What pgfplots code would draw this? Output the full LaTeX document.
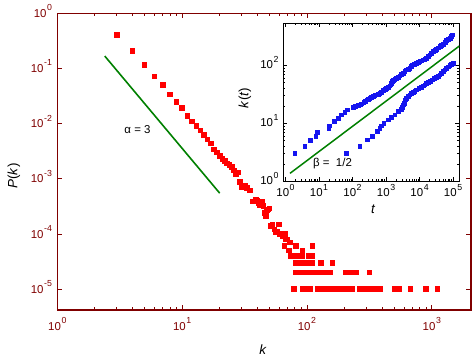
\documentclass[border=0pt]{standalone}
\usepackage{fontspec}
\setmainfont{Liberation Sans}
\usepackage{pgfplots}
\usepackage{pgfplotstable}
\pgfplotsset{compat=1.18}
\definecolor{axred}{RGB}{128,0,0}
\definecolor{dgreen}{RGB}{0,128,0}
\definecolor{ptblue}{RGB}{20,20,240}
\newcommand{\tp}[1]{10\hspace{0.6bp}\raisebox{6.6bp}{\fontsize{8.8}{9}\selectfont #1}}

\pgfplotstableread{
k P
3 0.40
4 0.205
5 0.117
6 0.072
7 0.050
8 0.034
9 0.0247
10 0.019
11 0.0138
12 0.011
13 0.0091
14 0.0075
15 0.0062
16 0.0052
17 0.0044
18 0.0034
19 0.0030
20 0.0026
21 0.0023
22 0.0021
23 0.0019
24 0.00179
25 0.00166
26 0.00141
27 0.00123
28 0.00130
29 0.00088
30 0.00070
32 0.00074
33 0.00068
35 0.00061
37 0.00039
39 0.00042
40 0.00040
41 0.00036
42 0.00034
44 0.00039
45 0.00032
46 0.00024
47 0.00021
48 0.00027
49 0.00028
50 0.00029
51 0.00014
53 0.00015
55 0.00012
56 0.00011
58 0.00011
60 0.00015
61 0.00010
63 0.00010
64 0.00009
65 0.00009
66 0.00006
67 0.00010
68 0.00008
70 0.00008
72 0.00005
73 0.00007
82 0.00006
111 0.00006
92 0.00005
74 0.00004
78 0.00004
82 0.00004
86 0.00004
89 0.00004
92 0.00004
104 0.00004
108 0.00004
111 0.00004
82 0.00003
86 0.00003
90 0.00003
95 0.00003
99 0.00003
103 0.00003
107 0.00003
111 0.00003
130 0.00003
160 0.00003
82 0.00002
86 0.00002
90 0.00002
94 0.00002
98 0.00002
103 0.00002
108 0.00002
113 0.00002
118 0.00002
124 0.00002
130 0.00002
136 0.00002
143 0.00002
150 0.00002
154 0.00002
205 0.00002
215 0.00002
226 0.00002
238 0.00002
250 0.00002
318 0.00002
79 0.00001
92 0.00001
96 0.00001
100 0.00001
104 0.00001
107 0.00001
122 0.00001
128 0.00001
134 0.00001
140 0.00001
147 0.00001
154 0.00001
161 0.00001
169 0.00001
177 0.00001
185 0.00001
194 0.00001
203 0.00001
212 0.00001
222 0.00001
232 0.00001
266 0.00001
279 0.00001
293 0.00001
307 0.00001
322 0.00001
338 0.00001
354 0.00001
371 0.00001
386 0.00001
506 0.00001
527 0.00001
549 0.00001
676 0.00001
903 0.00001
1113 0.00001
}\pkdata

\pgfplotstableread{
t k
1.92 3
3.8 4
5.7 5
8.1 6
8.9 7
20 8
21 9
28.7 10.6
37.7 12.2
47.5 13.9
59.7 15.2
70 16.9
105 18.9
124 19.8
150 20.2
176 20.7
190 21.5
221 22.7
250 24
277 25.2
300 26
333 27
370 27.8
418 28.7
470 29.8
527 30.7
590 31.8
663 32.9
740 34.5
834 36.3
940 38.2
1050 40.1
1180 42
1320 43.9
1400 46
1485 48.9
1570 52
1660 55.5
1850 57.5
2090 59.9
2350 62.5
2630 65.2
2950 69
3310 72.8
3700 78
4160 83
4650 86
5230 88.6
5700 94
6250 101
7200 104.5
8220 108
9200 111.5
10300 115
11600 119
13000 123
14600 127
16400 132
18300 140
20600 150
23200 161
26000 172
29200 180
32800 189
36800 199
41200 210
46200 221
51800 232
58200 248
65300 265
73200 278
82100 291
90500 311
99000 332
}\bandhi

\pgfplotstableread{
t k
67 3
167 4
277 5.15
401 6
550 7.2
662 8.2
744 9
871 10
1170 11.4
1480 12.7
1857 13.9
2330 15.8
2940 17.4
3100 19
3280 20.7
3480 22
3690 23.6
3900 25.3
4150 27
4600 29
5200 30.8
5800 32.3
6530 33.7
7300 35.5
8250 37.5
9700 39.7
11600 41.8
13000 43.8
14600 45.7
16400 48
18300 50.1
21300 53
24800 55.8
28400 59
32600 62.1
36500 65
40900 68
45800 72.5
51300 77.6
57600 83
64800 88.7
72600 93.5
81300 98.4
91500 103
102000 108
}\bandlo

\begin{document}
\begin{tikzpicture}[x=1bp,y=1bp]
\path[use as bounding box] (0,0) rectangle (472,360);
\begin{axis}[
  at={(57.3bp,50bp)}, anchor=south west,
  scale only axis, width=413.4bp, height=296.7bp,
  xmode=log, ymode=log,
  xmin=1, xmax=2050, ymin=4.2e-6, ymax=1,
  axis line style={axred, line width=1.6bp},
  tick style={axred, line width=0.9bp},
  major tick length=5bp, minor tick length=3bp,
  xtick={1,10,100,1000},
  xticklabels={\tp{0},\tp{1},\tp{2},\tp{3}},
  ytick={1,0.1,0.01,0.001,0.0001,0.00001},
  yticklabels={\tp{0},\tp{-1},\tp{-2},\tp{-3},\tp{-4},\tp{-5}},
  tick label style={font=\fontsize{11.5}{13}\selectfont, text=axred},
  xticklabel style={anchor=base, yshift=-20bp},
  yticklabel style={anchor=base east, yshift=-4bp, xshift=-1.8bp},
  xlabel={\textit{k}},
  xlabel style={at={(axis description cs:0.4976,-0.135)}, anchor=center, font=\fontsize{13.5}{15}\selectfont},
  ylabel={\textit{P}(\textit{k})},
  ylabel style={at={(axis description cs:-0.105,0.4516)}, anchor=center, font=\fontsize{13.5}{15}\selectfont},
]
\addplot[only marks, mark=square*, mark size=2.3bp, mark options={draw=red, fill=red, line width=0pt}] table[x=k, y=P] {\pkdata};
\addplot[dgreen, line width=1.6bp] coordinates {(2.4,0.168) (20,5.5e-4)};
\node[font=\fontsize{11.5}{13}\selectfont] at (axis cs:4.39,7.7e-3) {α = 3};
\end{axis}

\begin{axis}[
  at={(283.3bp,178.7bp)}, anchor=south west,
  scale only axis, width=176bp, height=158bp,
  xmode=log, ymode=log,
  xmin=0.86, xmax=1.54e5, ymin=1, ymax=530,
  axis background/.style={fill=white},
  axis line style={black, line width=0.8bp},
  tick style={black, line width=0.6bp},
  major tick length=4bp, minor tick length=2bp,
  xtick={1,10,100,1000,10000,100000},
  xticklabels={\tp{0},\tp{1},\tp{2},\tp{3},\tp{4},\tp{5}},
  ytick={1,10,100},
  yticklabels={\tp{0},\tp{1},\tp{2}},
  tick label style={font=\fontsize{11.5}{13}\selectfont, text=black},
  xticklabel style={anchor=base, yshift=-15.4bp},
  yticklabel style={anchor=base east, yshift=-3.5bp, xshift=-1.3bp},
  xlabel={\textit{t}},
  xlabel style={at={(axis description cs:0.511,-0.175)}, anchor=center, font=\fontsize{13.5}{15}\selectfont},
  ylabel={\textit{k}(\textit{t})},
  ylabel style={at={(axis description cs:-0.2176,0.527)}, anchor=center, font=\fontsize{13.5}{15}\selectfont},
]
\addplot[dgreen, line width=1.5bp] coordinates {(1.36,1.37) (1.54e5,215)};
\addplot[only marks, mark=square*, mark size=1.9bp, mark options={draw=ptblue, fill=ptblue, line width=0pt}] table[x=t, y=k] {\bandhi};
\addplot[only marks, mark=square*, mark size=1.9bp, mark options={draw=ptblue, fill=ptblue, line width=0pt}] table[x=t, y=k] {\bandlo};
\node[font=\fontsize{11.5}{13}\selectfont] at (axis cs:25.3,1.99) {β = \ 1/2};
\end{axis}
\end{tikzpicture}
\end{document}
